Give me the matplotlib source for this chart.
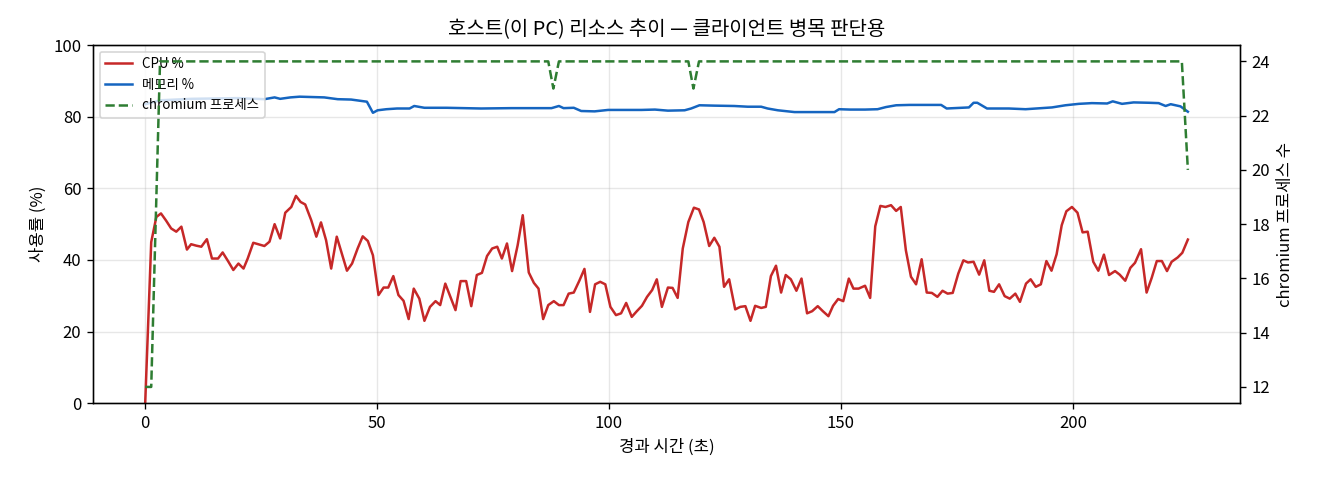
import matplotlib
matplotlib.use("Agg")
import matplotlib.pyplot as plt

plt.rcParams['font.family'] = ['Noto Sans CJK KR', 'DejaVu Sans']
plt.rcParams['axes.unicode_minus'] = False

# CPU % samples (elapsed seconds, percent)
cpu_t = [0, 1.3, 2.4, 3.4, 4.5, 5.6, 6.7, 7.8, 9.0, 9.9, 11.0, 12.1, 13.3, 14.4, 15.7,
         16.7, 17.9, 19.0, 20.1, 21.2, 22.1, 23.3, 25.7, 26.8, 27.9, 29.1, 30.2, 31.5,
         32.5, 33.5, 34.5, 35.8, 36.9, 37.9, 39.0, 40.1, 41.3, 42.4, 43.5, 44.6, 45.8,
         46.9, 48.0, 49.1, 50.3, 51.4, 52.4, 53.5, 54.6, 55.7, 56.8, 57.9, 59.1, 60.2,
         61.4, 62.6, 63.6, 64.7, 65.8, 66.9, 68.0, 69.2, 70.3, 71.5, 72.6, 73.7, 74.8,
         75.9, 76.9, 78.0, 79.1, 80.3, 81.4, 82.7, 83.8, 84.8, 85.8, 86.9, 88.1, 89.2,
         90.2, 91.3, 92.4, 93.6, 94.7, 95.9, 97.0, 98.1, 99.2, 100.3, 101.5, 102.6,
         103.7, 104.9, 106.0, 107.1, 108.2, 109.3, 110.3, 111.4, 112.7, 113.7, 114.8,
         115.9, 117.1, 118.3, 119.4, 120.4, 121.6, 122.7, 123.8, 124.8, 125.9, 127.2,
         128.3, 129.4, 130.5, 131.5, 132.8, 133.8, 134.9, 136.0, 137.1, 138.1, 139.2,
         140.4, 141.5, 142.7, 143.8, 145.0, 146.1, 147.3, 148.3, 149.4, 150.5, 151.7,
         152.7, 153.8, 155.2, 156.3, 157.4, 158.5, 159.6, 160.8, 161.9, 162.9, 164.0,
         165.1, 166.2, 167.4, 168.5, 169.6, 170.8, 171.9, 173.0, 174.1, 175.3, 176.4,
         177.4, 178.6, 179.8, 180.9, 182.0, 183.0, 184.1, 185.3, 186.4, 187.6, 188.6,
         189.9, 190.9, 192.0, 193.1, 194.3, 195.4, 196.5, 197.6, 198.6, 199.8, 201.0,
         202.1, 203.2, 204.4, 205.5, 206.7, 207.8, 209.1, 210.1, 211.3, 212.4, 213.4,
         214.7, 215.9, 217.0, 218.1, 219.2, 220.3, 221.3, 222.6, 223.6, 224.8]
cpu_pct = [0, 45, 52, 53, 51, 48.8, 47.9, 49.3, 42.9, 44.4, 44.0, 43.7, 45.8, 40.4, 40.4,
           42.1, 39.6, 37.2, 39.0, 37.6, 40.4, 44.8, 43.9, 45.1, 50.0, 46.0, 53.2, 54.8,
           57.9, 56.2, 55.5, 51.1, 46.5, 50.5, 45.5, 37.6, 46.5, 41.8, 37.0, 39.0, 43.2,
           46.6, 45.3, 41.3, 30.2, 32.3, 32.3, 35.5, 30.2, 28.6, 23.5, 32.0, 29.2, 23.0,
           26.9, 28.5, 27.4, 33.4, 29.7, 26.0, 34.1, 34.1, 27.1, 35.8, 36.4, 41.1, 43.2,
           43.7, 40.4, 44.6, 36.9, 44.1, 52.5, 36.5, 33.6, 32.0, 23.5, 27.4, 28.5, 27.4,
           27.4, 30.6, 30.9, 34.2, 37.5, 25.5, 33.2, 33.9, 33.2, 26.9, 24.6, 25.1,
           28.0, 24.1, 25.7, 27.2, 29.7, 31.6, 34.6, 26.9, 32.3, 32.2, 29.4,
           43.2, 50.6, 54.6, 54.1, 50.6, 43.9, 46.2, 43.7, 32.5, 34.6, 26.2,
           26.9, 27.1, 23.0, 27.2, 26.6, 26.9, 35.5, 38.4, 30.9, 35.8, 34.6,
           31.4, 34.8, 25.1, 25.7, 27.1, 25.7, 24.3, 27.2, 29.1, 28.5, 34.8,
           32.0, 32.0, 32.8, 29.4, 49.4, 55.1, 54.8, 55.3, 53.7, 54.8, 42.7,
           35.3, 33.2, 40.2, 30.9, 30.8, 29.7, 31.4, 30.6, 30.8, 36.2, 39.9,
           39.3, 39.5, 35.9, 39.9, 31.4, 31.1, 33.2, 29.9, 29.2, 30.6, 28.3,
           33.4, 34.6, 32.5, 33.2, 39.7, 37.0, 41.6, 49.7, 53.6, 54.8, 53.2,
           47.7, 47.9, 39.5, 37.0, 41.5, 35.8, 36.9, 35.9, 34.2, 37.8, 39.2,
           43.0, 30.9, 35.0, 39.7, 39.7, 36.9, 39.5, 40.7, 42.0, 45.7]

# memory % samples
mem_t = [0, 3.4, 10, 20, 25.7, 27.9, 29.1, 31.3, 33.3, 38.6, 41.5, 44.4, 47.8, 49.1,
         50.1, 52.0, 54.3, 57.0, 58.0, 60.2, 65, 72.4, 79.0, 87.6, 89.2, 90.2, 92.4,
         94.0, 96.9, 99.8, 107.0, 109.9, 112.7, 116.3, 117.7, 119.5, 122.7, 127.0,
         129.9, 132.8, 134.2, 136.4, 140.0, 144.3, 148.6, 149.6, 152.0, 155.2, 157.9,
         159.7, 161.9, 164.8, 171.6, 172.8, 177.6, 178.6, 179.4, 181.5, 186.2, 189.8,
         195.5, 198.4, 201.3, 204.1, 207.4, 208.6, 210.6, 213.1, 216.4, 218.5, 220.0,
         221.1, 223.2, 224.8]
mem_pct = [83.5, 84.6, 85.0, 85.2, 84.9, 85.4, 85.0, 85.4, 85.6, 85.4, 84.9, 84.8,
           84.2, 81.1, 81.8, 82.1, 82.3, 82.3, 83.0, 82.5, 82.5, 82.3, 82.4, 82.4, 83.0,
           82.4, 82.5, 81.6, 81.5, 81.9, 81.9, 82.0, 81.7, 81.8, 82.3, 83.2, 83.1,
           83.0, 82.8, 82.8, 82.3, 81.8, 81.3, 81.3, 81.3, 82.1, 82.0, 82.0, 82.1,
           82.7, 83.2, 83.3, 83.3, 82.3, 82.6, 83.9, 83.9, 82.3, 82.3, 82.1, 82.6,
           83.2, 83.6, 83.8, 83.7, 84.3, 83.6, 84.0, 83.9, 83.8, 83.0, 83.5, 82.9,
           81.4]

# chromium process count
proc_t = [0, 1.3, 3.2, 86.9, 88.0, 89.2, 117.1, 118.2, 119.4, 223.5, 224.8]
proc_n = [12, 12, 24, 24, 23, 24, 24, 23, 24, 24, 20]

fig, ax = plt.subplots(figsize=(11, 4), dpi=120)
ax2 = ax.twinx()

l1, = ax.plot(cpu_t, cpu_pct, color='#c62828', lw=1.5, label='CPU %')
l2, = ax.plot(mem_t, mem_pct, color='#1565c0', lw=1.5, label='메모리 %')
l3, = ax2.plot(proc_t, proc_n, color='#2e7d32', lw=1.5, ls='--', label='chromium 프로세스')

ax.set_ylim(0, 100)
ax.set_xlabel('경과 시간 (초)')
ax.set_ylabel('사용률 (%)')
ax2.set_ylabel('chromium 프로세스 수')
ax.set_title('호스트(이 PC) 리소스 추이 — 클라이언트 병목 판단용')
ax.grid(True, alpha=0.3)

ax.legend(handles=[l1, l2, l3], loc='upper left', fontsize=8)

fig.subplots_adjust(left=0.0705, right=0.9394, top=0.906, bottom=0.160)
fig.savefig('out.png')
